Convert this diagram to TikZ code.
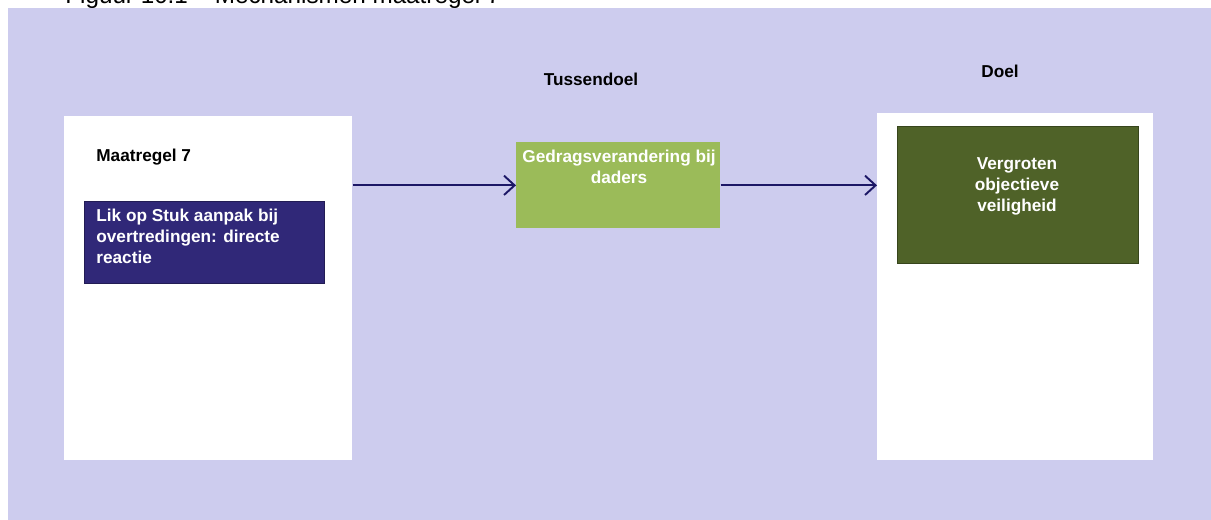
\documentclass[tikz,border=0pt]{standalone}
\usepackage{fontspec}
\setmainfont{Liberation Sans}
\usetikzlibrary{arrows.meta}
\definecolor{lavbg}{HTML}{CDCCEE}
\definecolor{maatblue}{HTML}{302878}
\definecolor{tusgreen}{HTML}{9BBB59}
\definecolor{doelgreen}{HTML}{4F6228}
\definecolor{arrownavy}{HTML}{1C1766}
\tikzset{
  column/.style={fill=white, draw=none, anchor=north west, inner sep=0pt},
  block/.style={anchor=north west, inner sep=0pt},
  btext/.style={font=\fontsize{9.8}{11.9}\selectfont\bfseries, inner sep=0pt},
  link/.style={draw=arrownavy, line width=1.1pt, -{Straight Barb[length=6pt,width=11pt,line width=1.1pt]}}
}
\begin{document}
\begin{tikzpicture}[x=0.02cm,y=-0.02cm]
  \useasboundingbox (0,0) rectangle (1211,520);
  \clip (0,0) rectangle (1211,520);
  % caption, cut off at the top
  \node[anchor=base west, inner sep=0pt, font=\fontsize{13.8}{16}\selectfont] (caption) at (65,4) {Figuur 10.1 -- Mechanismen maatregel 7};
  \fill[lavbg] (8,8) rectangle (1211,520);

  % columns
  \node[column, minimum width=5.76cm, minimum height=6.88cm] (maatcol) at (64,116) {};
  \node[column, minimum width=5.52cm, minimum height=6.94cm] (doelcol) at (877,113) {};

  % boxes
  \node[block, fill=maatblue, draw=maatblue!70!black, minimum width=4.8cm, minimum height=1.64cm] (maat) at (84,201) {};
  \node[block, fill=tusgreen, minimum width=4.08cm, minimum height=1.72cm] (tussen) at (516,142) {};
  \node[block, fill=doelgreen, draw=doelgreen!70!black, minimum width=4.82cm, minimum height=2.74cm] (doel) at (897,126) {};

  % texts
  \node[btext, anchor=west] (maatkop) at (96,157) {Maatregel 7};
  \node[btext, anchor=center] (tussenkop) at (591,79) {Tussendoel};
  \node[btext, anchor=center] (doelkop) at (1000,71) {Doel};
  \node[btext, text=white, anchor=north west, align=left] (maattxt) at (96,209) {Lik op Stuk aanpak bij\\overtredingen: directe\\reactie};
  \node[btext, text=white, anchor=north, align=center] (tussentxt) at (619,150) {Gedragsverandering bij\\daders};
  \node[btext, text=white, anchor=north, align=center] (doeltxt) at (1017,157) {Vergroten\\objectieve\\veiligheid};

  % arrows
  \draw[link] (maatcol.east |- tussen.west) -- (tussen.west);
  \draw[link] (tussen.east) -- (doelcol.west |- tussen.east);
\end{tikzpicture}
\end{document}
